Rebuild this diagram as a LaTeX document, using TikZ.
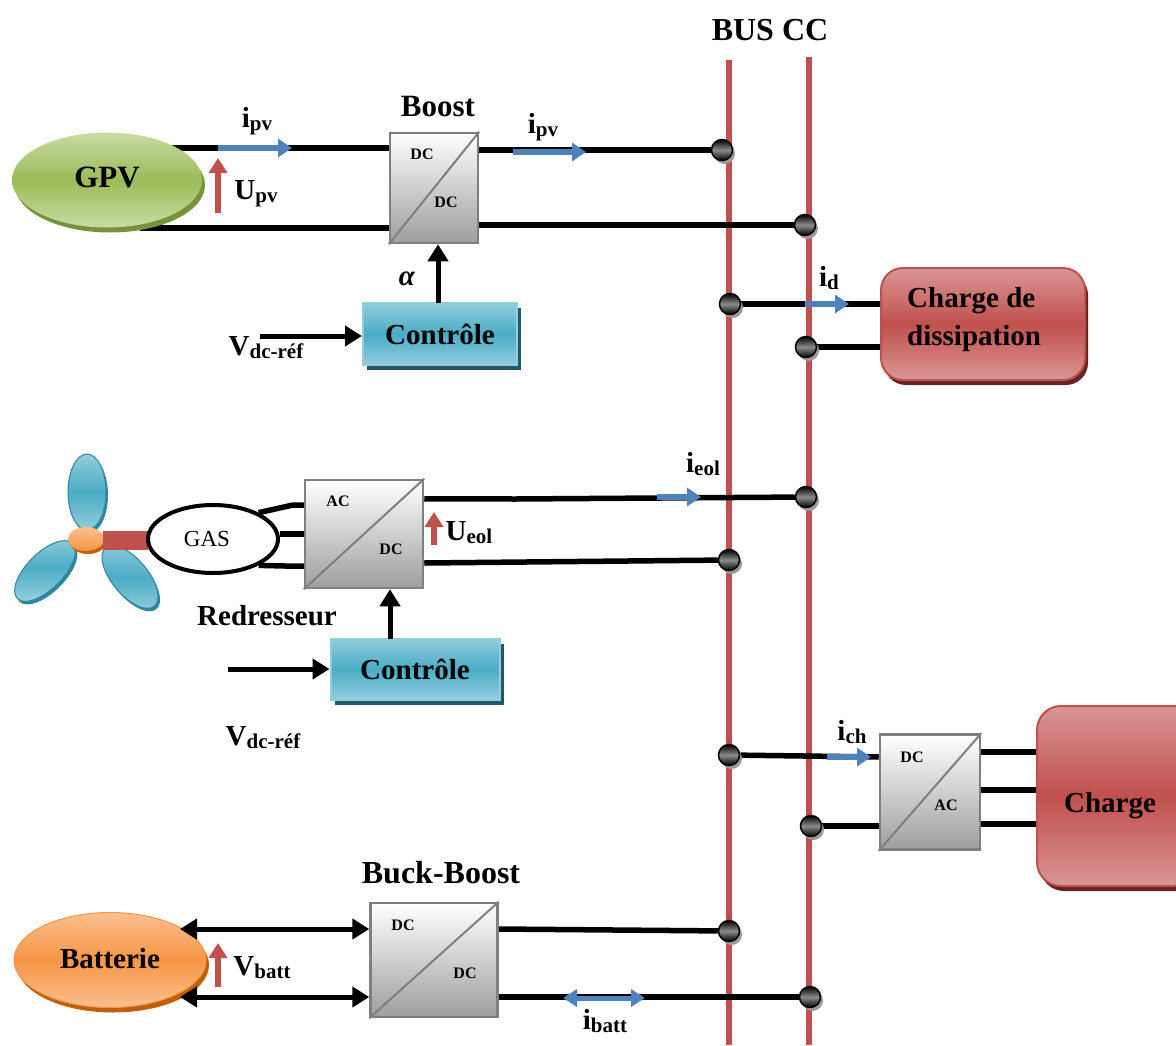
\documentclass[tikz,border=0pt]{standalone}
\usepackage{fontspec}
\setmainfont{Liberation Serif}
\usetikzlibrary{arrows.meta,shapes.geometric,calc,shadows}
\pgfdeclarelayer{back}
\pgfsetlayers{back,main}

\definecolor{busred}{HTML}{C0504D}
\definecolor{pvgreen}{HTML}{9BBB59}
\definecolor{pvlight}{HTML}{C8DCA3}
\definecolor{pvdark}{HTML}{76923C}
\definecolor{arrblue}{HTML}{4F81BD}
\definecolor{tealmid}{HTML}{4BACC6}
\definecolor{teallight}{HTML}{92CDDC}
\definecolor{tealdark}{HTML}{215968}
\definecolor{bladedark}{HTML}{31859C}
\definecolor{redlight}{HTML}{DA9694}
\definecolor{reddark}{HTML}{632523}
\definecolor{orangemid}{HTML}{F79646}
\definecolor{orangelight}{HTML}{FAC090}
\definecolor{orangedark}{HTML}{C0600A}
\definecolor{convgray}{HTML}{7F7F7F}

% quantity with a lowered subscript
\newcommand{\sig}[2]{#1{\fontsize{21}{21}\selectfont\raisebox{-3pt}{#2}}}

\tikzset{
  wire/.style={line width=5.5pt},
  bus/.style={draw=busred, line width=6pt},
  lbl/.style={font=\fontsize{29}{38}\selectfont\bfseries, inner sep=0pt},
  title/.style={font=\fontsize{32}{32}\selectfont\bfseries, inner sep=0pt},
  convtxt/.style={font=\fontsize{16}{16}\selectfont\bfseries, inner sep=0pt},
  conv/.style={rectangle, draw=convgray, line width=2.5pt, top color=white,
    bottom color=black!38, inner sep=0pt},
  diag/.style={draw=convgray, line width=2pt},
  ctrl/.style={rectangle, draw=teallight, line width=2pt, top color=teallight,
    bottom color=teallight, middle color=tealmid, inner sep=0pt,
    font=\fontsize{29}{29}\selectfont\bfseries,
    drop shadow={shadow xshift=4pt, shadow yshift=-5pt, fill=tealdark, opacity=1}},
  loadbox/.style={rectangle, draw=busred, line width=2pt, top color=redlight,
    bottom color=redlight, middle color=busred, inner sep=0pt,
    drop shadow={shadow xshift=3pt, shadow yshift=-5pt, fill=reddark, opacity=1}},
  pvell/.style={ellipse, minimum width=190pt, minimum height=95pt, inner sep=0pt,
    top color=pvlight, bottom color=pvlight, middle color=pvgreen,
    font=\fontsize{31}{31}\selectfont\bfseries,
    drop shadow={shadow xshift=3pt, shadow yshift=-5pt, fill=pvdark, opacity=1}},
  batell/.style={ellipse, minimum width=192pt, minimum height=95pt, inner sep=0pt,
    draw=orangemid, line width=1pt,
    top color=orangelight, bottom color=orangelight, middle color=orangemid,
    font=\fontsize{29}{29}\selectfont\bfseries,
    drop shadow={shadow xshift=3pt, shadow yshift=-5pt, fill=orangedark, opacity=1}},
  blade/.style={ellipse, inner sep=0pt, draw=bladedark, line width=1pt,
    top color=teallight, bottom color=teallight, middle color=tealmid,
    drop shadow={shadow xshift=2pt, shadow yshift=-3pt, fill=bladedark, opacity=1}},
  hubell/.style={ellipse, inner sep=0pt, minimum width=36pt, minimum height=24pt,
    top color=orangelight, bottom color=orangemid,
    drop shadow={shadow xshift=2pt, shadow yshift=-3pt, fill=orangedark, opacity=1}},
  dot/.style={circle, minimum size=21pt, inner sep=0pt, draw=black, line width=1.5pt,
    top color=black, bottom color=black, middle color=black!45,
    drop shadow={shadow xshift=2.5pt, shadow yshift=-3.5pt, fill=black!40, opacity=1}},
  ctrlarr/.style={line width=5pt, -{Triangle[length=17pt,width=20pt]}},
  dblarr/.style={line width=5pt, {Triangle[length=17pt,width=20pt]}-{Triangle[length=17pt,width=20pt]}},
  bluearr/.style={draw=arrblue, line width=6pt, -{Triangle[length=14pt,width=18pt]}},
  bluedbl/.style={draw=arrblue, line width=5pt, {Triangle[length=14pt,width=17pt]}-{Triangle[length=14pt,width=17pt]}},
  redarr/.style={draw=busred, line width=6pt, -{Triangle[length=15pt,width=18pt]}},
}

\begin{document}
\begin{tikzpicture}[x=1pt,y=-1pt]
\useasboundingbox (0,0) rectangle (1176,1045);
\clip (0,0) rectangle (1176,1045);

% ---------------- bus connection points ----------------
\node[dot] (d1) at (722,150) {};
\node[dot] (d2) at (805,225) {};
\node[dot] (d3) at (730,304) {};
\node[dot] (d4) at (806,347) {};
\node[dot] (d5) at (806,497) {};
\node[dot] (d6) at (729,560) {};
\node[dot] (d7) at (729,755) {};
\node[dot] (d8) at (811,826) {};
\node[dot] (d9) at (729,931) {};
\node[dot] (d10) at (810,997) {};
\node[title] (busLabel) at (770,30) {BUS CC};

% ---------------- photovoltaic branch ----------------
\node[pvell] (gpv) at (107,180) {\raisebox{5pt}{GPV}};
\node[conv, minimum width=88pt, minimum height=110pt] (boost) at (434,188) {};
\draw[diag] (boost.south west) -- (boost.north east);
\node[convtxt] (boostA) at (422,154) {DC};
\node[convtxt] (boostB) at (446,202) {DC};
\node[title, font=\fontsize{31}{31}\selectfont\bfseries] (boostLbl) at (438,106) {Boost};
\node[ctrl, minimum width=154pt, minimum height=62pt] (ctrl1) at (440,334) {Contrôle};
\node[lbl] (alpha) at (407,279) {\textit{α}};
\node[lbl] (vref1) at (266,348) {\sig{V}{dc-réf}};
\node[lbl] (ipv1) at (257,121) {\sig{i}{pv}};
\node[lbl] (upv) at (256,194) {\sig{U}{pv}};
\node[lbl] (ipv2) at (543,127) {\sig{i}{pv}};

\coordinate (pvTop) at (150,148);
\coordinate (pvBot) at (140,228);
\coordinate (c1a) at (438,303);
\coordinate (vin1) at (260,336);
\draw[ctrlarr] (c1a) -- (c1a |- boost.south);
\draw[ctrlarr] (vin1) -- (vin1 -| ctrl1.west);

\coordinate (ipvA) at (218,148); \coordinate (ipvB) at (292,148);
\draw[bluearr] (ipvA) -- (ipvB);
\coordinate (upvA) at (218,213); \coordinate (upvB) at (218,158);
\draw[redarr] (upvA) -- (upvB);
\coordinate (ipv2A) at (513,152); \coordinate (ipv2B) at (586,152);
\draw[bluearr] (ipv2A) -- (ipv2B);

% ---------------- dump load ----------------
\node[loadbox, rounded corners=22pt, minimum width=204pt, minimum height=112pt] (diss) at (983,324) {};
\node[lbl, align=left, anchor=west] (dissTxt) at (907,320) {Charge de\\dissipation};
\node[lbl] (idLbl) at (829,278) {\sig{i}{d}};
\coordinate (idA) at (805,304); \coordinate (idB) at (849,304);
\draw[bluearr] (idA) -- (idB);

% ---------------- wind branch ----------------
\node[blade, minimum width=76pt, minimum height=38pt, rotate=90] (bladeA) at (87,492) {};
\node[blade, minimum width=78pt, minimum height=36pt, rotate=45] (bladeB) at (45,571) {};
\node[blade, minimum width=76pt, minimum height=36pt, rotate=-50] (bladeC) at (130,577) {};
\node[hubell] (hub) at (86,539) {};
\node[fill=busred, minimum width=45pt, minimum height=19pt, inner sep=0pt] (shaft) at (125,540) {};
\node[ellipse, draw, line width=4pt, fill=white, minimum width=130pt, minimum height=68pt,
  inner sep=0pt, font=\fontsize{23}{23}\selectfont] (gas) at (213,539) {GAS\kern12pt};
\node[conv, minimum width=118pt, minimum height=108pt] (rect) at (364,534) {};
\draw[diag] (rect.south west) -- (rect.north east);
\node[convtxt] (rectA) at (338,501) {AC};
\node[convtxt] (rectB) at (391,549) {DC};
\node[lbl] (ueol) at (469,533) {\sig{U}{eol}};
\node[lbl] (redr) at (267,616) {Redresseur};
\node[ctrl, minimum width=169pt, minimum height=61pt] (ctrl2) at (415,669) {Contrôle};
\node[lbl] (vref2) at (263,738) {\sig{V}{dc-réf}};
\node[lbl] (ieol) at (703,464) {\sig{i}{eol}};

\coordinate (c2a) at (390,639);
\coordinate (vin2) at (228,669);
\draw[ctrlarr] (c2a) -- (c2a |- rect.south);
\draw[ctrlarr] (vin2) -- (vin2 -| ctrl2.west);
\coordinate (ueolA) at (434,545); \coordinate (ueolB) at (434,512);
\draw[redarr] (ueolA) -- (ueolB);
\coordinate (ieolA) at (657,497); \coordinate (ieolB) at (701,497);
\draw[bluearr] (ieolA) -- (ieolB);

% ---------------- AC load ----------------
\node[conv, minimum width=100pt, minimum height=115pt] (inv) at (930,792) {};
\draw[diag] (inv.south west) -- (inv.north east);
\node[convtxt] (invA) at (912,757) {DC};
\node[convtxt] (invB) at (946,805) {AC};
\node[loadbox, rounded corners=24pt, minimum width=160pt, minimum height=180pt] (load) at (1117,796) {};
\node[lbl] (loadTxt) at (1110,806) {Charge};
\node[lbl] (ichLbl) at (852,732) {\sig{i}{ch}};
\coordinate (ichA) at (827,757); \coordinate (ichB) at (871,757);
\draw[bluearr] (ichA) -- (ichB);

% ---------------- battery branch ----------------
\node[batell] (bat) at (110,960) {\raisebox{3pt}{Batterie}};
\node[conv, minimum width=127pt, minimum height=114pt] (buck) at (434,960) {};
\draw[diag] (buck.south west) -- (buck.north east);
\node[convtxt] (buckA) at (403,925) {DC};
\node[convtxt] (buckB) at (465,973) {DC};
\node[title] (buckLbl) at (441,873) {Buck-Boost};
\node[lbl] (vbatt) at (262,968) {\sig{V}{batt}};
\node[lbl] (ibatt) at (605,1021) {\sig{i}{batt}};

\coordinate (ba1) at (180,929);
\coordinate (ba2) at (180,997);
\draw[dblarr] (ba1) -- (ba1 -| buck.west);
\draw[dblarr] (ba2) -- (ba2 -| buck.west);
\coordinate (vbA) at (218,987); \coordinate (vbB) at (218,943);
\draw[redarr] (vbA) -- (vbB);
\coordinate (ibA) at (563,998); \coordinate (ibB) at (645,998);
\draw[bluedbl] (ibA) -- (ibB);

% ---------------- buses and wires, behind the blocks ----------------
\begin{pgfonlayer}{back}
  \coordinate (b1t) at (729,60);  \coordinate (b1b) at (729,1045);
  \coordinate (b2t) at (809,57);  \coordinate (b2b) at (809,1045);
  \draw[bus] (b1t) -- (b1b);
  \draw[bus] (b2t) -- (b2b);

  % photovoltaic
  \draw[wire] (pvTop) -- (pvTop -| boost.west);
  \draw[wire] (pvBot) -- (pvBot -| boost.west);
  \draw[wire] (boost.east |- d1) -- (d1);
  \draw[wire] (boost.east |- d2) -- (d2);
  % dump load
  \draw[wire] (d3) -- (d3 -| diss.west);
  \draw[wire] (d4) -- (d4 -| diss.west);
  % generator to rectifier
  \draw[wire] (gas.30) -- (293,505) -- (rect.west |- 0,505);
  \draw[wire] (gas.east |- 0,534) -- (rect.west |- 0,534);
  \draw[wire] (gas.-30) -- (285,566) -- (rect.west |- 0,566);
  % rectifier to buses
  \draw[wire] ($(rect.north east)+(0,20)$) -- (515,499) -- (d5);
  \draw[wire] (rect.east |- 0,563) -- (d6);
  % inverter
  \draw[wire] (d7) -- (inv.west |- 0,757);
  \draw[wire] (d8) -- (d8 -| inv.west);
  \draw[wire] (inv.east |- 0,752) -- (load.west |- 0,752);
  \draw[wire] (inv.east |- 0,790) -- (load.west |- 0,790);
  \draw[wire] (inv.east |- 0,824) -- (load.west |- 0,824);
  % battery
  \draw[wire] (buck.east |- 0,929) -- (d9);
  \draw[wire] (buck.east |- d10) -- (d10);
\end{pgfonlayer}
\end{tikzpicture}
\end{document}
